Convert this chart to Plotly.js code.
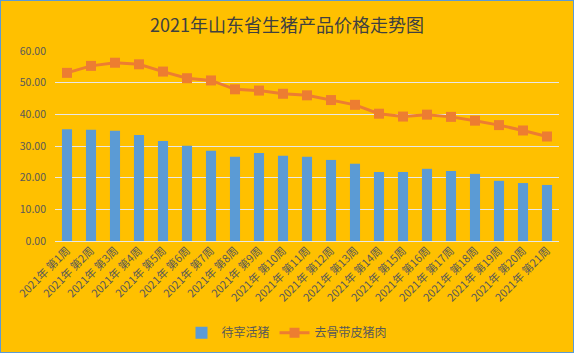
<!DOCTYPE html>
<html><head><meta charset="utf-8">
<script src="https://cdn.plot.ly/plotly-3.0.1.min.js"></script>
<style>html,body{margin:0;padding:0;background:#FFC000;}
#c{width:572px;height:351px;border:1px solid #5B9BD5;}</style>
</head><body><div id="c"></div>
<script>
const weeks = ["2021年 第1周","2021年 第2周","2021年 第3周","2021年 第4周","2021年 第5周","2021年 第6周","2021年 第7周","2021年 第8周","2021年 第9周","2021年 第10周","2021年 第11周","2021年 第12周","2021年 第13周","2021年 第14周","2021年 第15周","2021年 第16周","2021年 第17周","2021年 第18周","2021年 第19周","2021年 第20周","2021年 第21周"];
const livePigs = [35.3,35.1,34.8,33.5,31.6,30.1,28.5,26.6,27.8,26.9,26.6,25.6,24.4,21.8,21.8,22.8,22.1,21.2,19.0,18.3,17.7];
const bonelessPork = [53.1,55.3,56.3,55.8,53.5,51.4,50.7,47.9,47.5,46.5,46.0,44.5,43.0,40.2,39.3,39.9,39.2,38.0,36.6,34.9,33.0];
const yTicks = [0,10,20,30,40,50,60];
const font = "'Noto Sans CJK SC', 'Noto Sans', sans-serif";
const data = [
  {type:'bar', name:'待宰活猪', x:weeks, y:livePigs, marker:{color:'#5B9BD5'}},
  {type:'scatter', mode:'lines+markers', name:'去骨带皮猪肉', x:weeks, y:bonelessPork,
   line:{color:'#ED7D31', width:3}, marker:{symbol:'square', size:10, color:'#ED7D31'}}
];
const layout = {
  width:572, height:351,
  paper_bgcolor:'#FFC000', plot_bgcolor:'#FFC000',
  margin:{l:54, r:14, t:50, b:111},
  bargap:0.58,
  title:{text:'2021年山东省生猪产品价格走势图', x:0.5, xanchor:'center', y:0.93, yanchor:'middle',
         font:{family:font, size:18, color:'#404040'}},
  xaxis:{type:'category', range:[-0.5, weeks.length-0.5], tickangle:-45, automargin:false,
         tickfont:{family:font, size:11, color:'#595959'},
         showgrid:false, zeroline:false, showline:false, ticks:''},
  yaxis:{range:[0,60], automargin:false, tickvals:yTicks, ticktext:yTicks.map(v=>v.toFixed(2)),
         ticklabelstandoff:8,
         tickfont:{family:font, size:10.5, color:'#595959'}, gridcolor:'#E8E8E8', gridwidth:1,
         zeroline:true, zerolinecolor:'#E8E8E8', showline:false, ticks:'', ticklen:0},
  legend:{orientation:'h', x:0.5, xref:'container', xanchor:'center', y:0.055, yref:'container', yanchor:'middle',
          font:{family:font, size:12, color:'#595959'}, bgcolor:'rgba(0,0,0,0)'},
  showlegend:true
};
Plotly.newPlot('c', data, layout, {displayModeBar:false, staticPlot:true});
</script></body></html>
